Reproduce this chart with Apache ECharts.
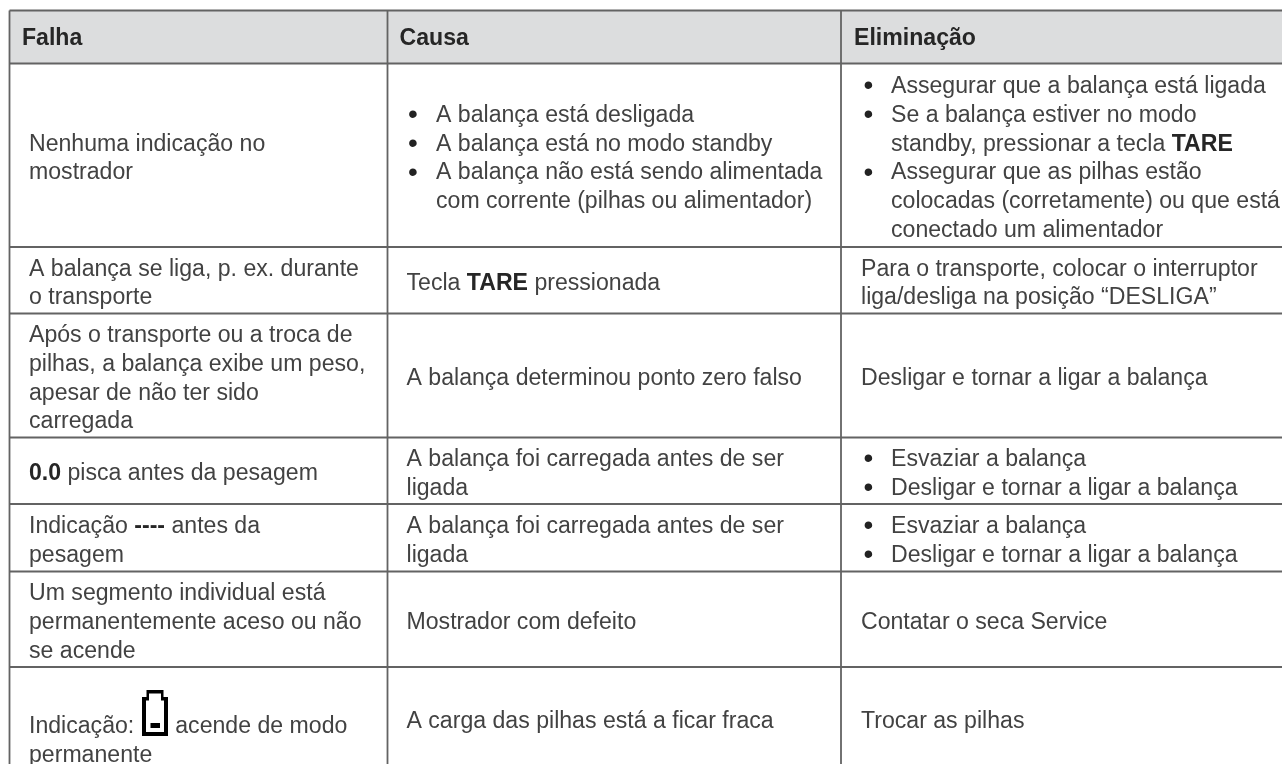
<!DOCTYPE html>
<html>
<head>
<meta charset="utf-8">
<title>Falha / Causa / Eliminação</title>
<style>
  html, body { margin: 0; padding: 0; background: #fff; }
  #main { width: 1282px; height: 764px; }
</style>
<script src="https://cdn.jsdelivr.net/npm/echarts@6/dist/echarts.min.js"></script>
</head>
<body>
<div id="main"></div>
<script>
  var headers = ['Falha', 'Causa', 'Eliminação']

  // a leading "* " is a bullet, a leading "  " continues the bullet text
  var falha = [
    ['Nenhuma indicação no', 'mostrador'],
    ['A balança se liga, p. ex. durante', 'o transporte'],
    ['Após o transporte ou a troca de', 'pilhas, a balança exibe um peso,', 'apesar de não ter sido', 'carregada'],
    ['{b|0.0} pisca antes da pesagem'],
    ['Indicação {b|----} antes da', 'pesagem'],
    ['Um segmento individual está', 'permanentemente aceso ou não', 'se acende'],
    ['Indicação:{gap| }acende de modo', 'permanente']
  ]
  var causa = [
    ['* A balança está desligada', '* A balança está no modo standby', '* A balança não está sendo alimentada', '  com corrente (pilhas ou alimentador)'],
    ['Tecla {b|TARE} pressionada'],
    ['A balança determinou ponto zero falso'],
    ['A balança foi carregada antes de ser', 'ligada'],
    ['A balança foi carregada antes de ser', 'ligada'],
    ['Mostrador com defeito'],
    ['A carga das pilhas está a ficar fraca']
  ]
  var eliminacao = [
    ['* Assegurar que a balança está ligada', '* Se a balança estiver no modo', '  standby, pressionar a tecla {b|TARE}', '* Assegurar que as pilhas estão', '  colocadas (corretamente) ou que está', '  conectado um alimentador'],
    ['Para o transporte, colocar o interruptor', 'liga/desliga na posição “DESLIGA”'],
    ['Desligar e tornar a ligar a balança'],
    ['* Esvaziar a balança', '* Desligar e tornar a ligar a balança'],
    ['* Esvaziar a balança', '* Desligar e tornar a ligar a balança'],
    ['Contatar o seca Service'],
    ['Trocar as pilhas']
  ]

  var columnEdges = [9.5, 387.5, 841, 1282]
  var rowEdges = [10.5, 63.5, 247, 313.5, 437.5, 504, 571.5, 667, 770]
  var textLeft = [29, 406.5, 861]
  var bulletX = [0, 413, 868.5]
  var bulletTextLeft = [0, 436, 891]
  var linePitch = 28.8
  var textDrop = 3.3

  var textColor = '#424242'
  var boldColor = '#262626'
  var lineColor = '#636363'
  var fontFamily = '"Liberation Sans", Arial, sans-serif'
  var fontSize = 23.1

  var cellColumns = [falha, causa, eliminacao]

  // one record per line of text: [x, y, text, bullet?]
  var textRows = []
  headers.forEach(function (h, c) {
    textRows.push([textLeft[c] - 7, (rowEdges[0] + rowEdges[1]) / 2 + 2, '{h|' + h + '}'])
  })
  cellColumns.forEach(function (rows, c) {
    rows.forEach(function (lines, r) {
      var mid = (rowEdges[r + 1] + rowEdges[r + 2]) / 2
      if (r === 6 && c === 0) mid = 738
      lines.forEach(function (line, i) {
        var y = mid + textDrop + (i - (lines.length - 1) / 2) * linePitch
        var body = line
        var x = textLeft[c]
        if (line.indexOf('* ') === 0) {
          textRows.push([bulletX[c], y, '•', true])
          body = line.slice(2)
          x = bulletTextLeft[c]
        } else if (line.indexOf('  ') === 0) {
          body = line.slice(2)
          x = bulletTextLeft[c]
        }
        textRows.push([x, y, body])
      })
    })
  })

  var rich = {
    b: { fontFamily: fontFamily, fontSize: fontSize, fontWeight: 'bold', fill: boldColor, color: boldColor },
    h: { fontFamily: fontFamily, fontSize: fontSize, fontWeight: 'bold', fill: boldColor, color: boldColor },
    gap: { width: 41 }
  }

  function renderCellText(params, api) {
    var row = textRows[params.dataIndex]
    var p = api.coord([row[0], row[1]])
    return {
      type: 'text',
      style: {
        x: p[0],
        y: p[1],
        text: row[2],
        fill: row[3] ? '#222' : textColor,
        font: row[3] ? '28px ' + fontFamily : fontSize + 'px ' + fontFamily,
        align: row[3] ? 'center' : 'left',
        verticalAlign: 'middle',
        rich: rich
      }
    }
  }

  function renderHeaderBand(params, api) {
    var a = api.coord([columnEdges[0], rowEdges[0]])
    var b = api.coord([columnEdges[3], rowEdges[1]])
    return {
      type: 'rect',
      shape: { x: a[0], y: a[1], width: b[0] - a[0], height: b[1] - a[1] },
      style: { fill: '#dcddde' }
    }
  }

  function renderRule(params, api) {
    var a = api.coord([api.value(0), api.value(1)])
    var b = api.coord([api.value(2), api.value(3)])
    return {
      type: 'line',
      shape: { x1: a[0], y1: a[1], x2: b[0], y2: b[1] },
      style: { stroke: lineColor, lineWidth: 1.8 }
    }
  }

  // battery symbol, drawn around its left/top corner
  var batteryLeft = 142
  var batteryTop = 690
  function renderBattery(params, api) {
    var o = api.coord([batteryLeft, batteryTop])
    return {
      type: 'group',
      x: o[0],
      y: o[1],
      children: [
        { type: 'polygon', shape: { points: [[0, 7], [4.5, 7], [4.5, 0], [21.5, 0], [21.5, 7], [26, 7], [26, 46], [0, 46]] }, style: { fill: '#000' } },
        { type: 'rect', shape: { x: 4, y: 10.5, width: 18, height: 31.5 }, style: { fill: '#fff' } },
        { type: 'rect', shape: { x: 7, y: 3.5, width: 12, height: 8 }, style: { fill: '#fff' } },
        { type: 'rect', shape: { x: 8.5, y: 33, width: 9.5, height: 5 }, style: { fill: '#000' } }
      ]
    }
  }

  var rules = []
  rowEdges.slice(0, -1).forEach(function (y) {
    rules.push([columnEdges[0], y, columnEdges[3], y])
  })
  columnEdges.slice(0, -1).forEach(function (x) {
    rules.push([x, rowEdges[0], x, rowEdges[8]])
  })

  var chart = echarts.init(document.getElementById('main'), null, { renderer: 'canvas' })
  chart.setOption({
    animation: false,
    backgroundColor: '#fff',
    grid: { left: 0, right: 0, top: 0, bottom: 0 },
    xAxis: { type: 'value', min: 0, max: 1282, show: false },
    yAxis: { type: 'value', min: 0, max: 764, inverse: true, show: false },
    series: [
      { type: 'custom', coordinateSystem: 'cartesian2d', renderItem: renderHeaderBand, data: [[0, 0]], silent: true, z: 1 },
      { type: 'custom', coordinateSystem: 'cartesian2d', renderItem: renderRule, data: rules, silent: true, z: 2 },
      { type: 'custom', coordinateSystem: 'cartesian2d', renderItem: renderCellText, data: textRows.map(function (r) { return [r[0], r[1]] }), silent: true, z: 3 },
      { type: 'custom', coordinateSystem: 'cartesian2d', renderItem: renderBattery, data: [[batteryLeft, batteryTop]], silent: true, z: 4 }
    ]
  })
</script>
</body>
</html>
